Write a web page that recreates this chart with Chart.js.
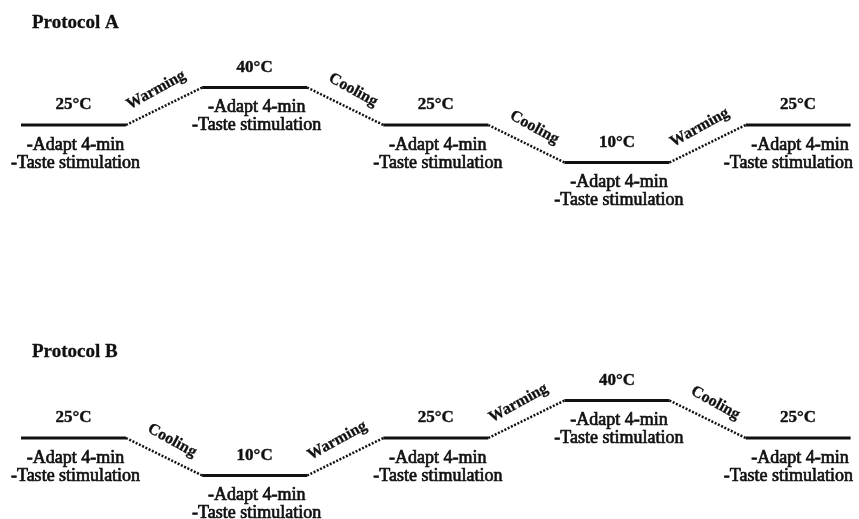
<!DOCTYPE html>
<html>
<head>
<meta charset="utf-8">
<script src="https://cdn.jsdelivr.net/npm/chart.js@4.4.1/dist/chart.umd.min.js"></script>
<style>
  html, body { margin: 0; padding: 0; background: #fff; }
  #wrap { width: 859px; height: 519px; }
</style>
</head>
<body>
<div id="wrap"><canvas id="protocols" width="859" height="519"></canvas></div>
<script>
// stage start/end times (arbitrary time units), same for both protocols
const stageStarts = [0, 6.9, 13.8, 20.7, 27.6];
const stageEnds = [4, 10.9, 17.8, 24.7, 31.6];
const protocolNames = ["Protocol A", "Protocol B"];
const tempsA = [25, 40, 25, 10, 25];
const tempsB = [25, 10, 25, 40, 25];
const stageNotes = ["-Adapt 4-min", "-Taste stimulation"];

function buildPoints(temps) {
  const pts = [];
  temps.forEach((t, i) => {
    pts.push({ x: stageStarts[i], y: t });
    pts.push({ x: stageEnds[i], y: t });
  });
  return pts;
}

const dotted = ctx => ctx.p0.parsed.y !== ctx.p1.parsed.y ? [2, 1.6] : undefined;
const width = ctx => ctx.p0.parsed.y !== ctx.p1.parsed.y ? 2.5 : 3;

// text drawn a little heavy, like the scanned figure
function heavyText(ctx, s, x, y, w) {
  ctx.lineWidth = w;
  ctx.fillText(s, x, y);
  ctx.strokeText(s, x, y);
}

const labelPlugin = {
  id: "labels",
  afterDatasetsDraw(chart) {
    const ctx = chart.ctx;
    const xs = chart.scales.x;
    const rightLimit = chart.width - 6;
    ctx.save();
    ctx.fillStyle = "#111";
    ctx.strokeStyle = "#111";
    ctx.textBaseline = "middle";

    chart.data.datasets.forEach((ds, d) => {
      const ys = chart.scales[ds.yAxisID];
      const temps = ds.temps;

      // protocol title
      ctx.textAlign = "left";
      ctx.font = "bold 19px 'Liberation Serif'";
      heavyText(ctx, protocolNames[d], xs.getPixelForValue(stageStarts[0]) + 11,
        ys.getPixelForValue(25) - (d === 0 ? 102 : 86), 0.3);
      ctx.textAlign = "center";

      temps.forEach((t, i) => {
        const mid = xs.getPixelForValue((stageStarts[i] + stageEnds[i]) / 2);
        const py = ys.getPixelForValue(t);
        ctx.font = "bold 17px 'Liberation Serif'";
        heavyText(ctx, t + "\u00B0C", mid, py - 20, 0.4);
        ctx.font = "18px 'Liberation Serif'";
        stageNotes.forEach((n, k) => {
          let cx = mid + 2;
          const half = ctx.measureText(n).width / 2;
          if (cx + half > rightLimit) cx = rightLimit - half;
          heavyText(ctx, n, cx, py + 20 + k * 18, 0.7);
        });

        if (i < temps.length - 1) {
          const x0 = xs.getPixelForValue(stageEnds[i]);
          const y0 = py;
          const x1 = xs.getPixelForValue(stageStarts[i + 1]);
          const y1 = ys.getPixelForValue(temps[i + 1]);
          const ang = Math.atan2(y1 - y0, x1 - x0);
          const nx = Math.sin(ang), ny = -Math.cos(ang);
          const cx = (x0 + x1) / 2 + nx * 18;
          const cy = (y0 + y1) / 2 + ny * 18;
          ctx.save();
          ctx.translate(cx, cy);
          ctx.rotate(ang * 1.1);
          ctx.font = "bold 16px 'Liberation Serif'";
          heavyText(ctx, temps[i + 1] > t ? "Warming" : "Cooling", 0, 0, 0.3);
          ctx.restore();
        }
      });
    });
    ctx.restore();
  }
};

new Chart(document.getElementById("protocols"), {
  type: "line",
  data: {
    datasets: [
      {
        label: protocolNames[0],
        data: buildPoints(tempsA),
        temps: tempsA,
        yAxisID: "yA",
        borderColor: "#111",
        pointRadius: 0,
        segment: { borderDash: dotted, borderWidth: width }
      },
      {
        label: protocolNames[1],
        data: buildPoints(tempsB),
        temps: tempsB,
        yAxisID: "yB",
        borderColor: "#111",
        pointRadius: 0,
        segment: { borderDash: dotted, borderWidth: width }
      }
    ]
  },
  options: {
    responsive: false,
    animation: false,
    layout: { padding: 0 },
    plugins: { legend: { display: false }, tooltip: { enabled: false } },
    scales: {
      x: { type: "linear", min: -0.8, max: 31.92, display: false },
      yA: { type: "linear", min: -132.6, max: 75, display: false },
      yB: { type: "linear", min: -7.4, max: 200.2, display: false }
    }
  },
  plugins: [labelPlugin]
});
</script>
</body>
</html>
